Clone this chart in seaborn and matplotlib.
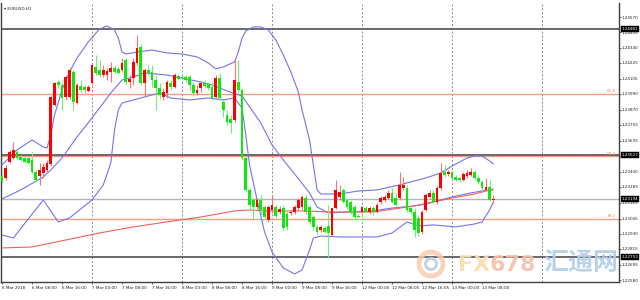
import numpy as np
import pandas as pd
import matplotlib
matplotlib.use('Agg')
import matplotlib.pyplot as plt
import matplotlib.transforms as mtransforms
from matplotlib.patches import Circle
import seaborn as sns

# ---------------- data (EURUSD H1) ----------------
opens = [1.23368, 1.23353, 1.23474, 1.23504, 1.23549, 1.23512, 1.23504, 1.23504, 1.23489, 1.23398,
         1.23368, 1.23390, 1.23413, 1.23459, 1.23905, 1.24079, 1.24057, 1.23966, 1.23966, 1.24155,
         1.23920, 1.24049, 1.24041, 1.24011, 1.24072, 1.24193, 1.24170, 1.24132, 1.24132, 1.24155,
         1.24185, 1.24178, 1.24170, 1.24246, 1.24079, 1.24110, 1.24223, 1.24344, 1.24072, 1.24170,
         1.24155, 1.24094, 1.24034, 1.23966, 1.23996, 1.24072, 1.24041, 1.24125, 1.24117, 1.24117,
         1.24117, 1.24057, 1.23996, 1.24034, 1.24072, 1.24064, 1.24041, 1.23966, 1.24110, 1.23928,
         1.23829, 1.23799, 1.23792, 1.24079, 1.24019, 1.23504, 1.23262, 1.23186, 1.23133, 1.23186,
         1.23133, 1.23035, 1.23110, 1.23133, 1.23095, 1.23125, 1.23080, 1.23088, 1.23095, 1.23125,
         1.23133, 1.23201, 1.23133, 1.23057, 1.22982, 1.22959, 1.22974, 1.22989, 1.22921, 1.23125,
         1.23209, 1.23262, 1.23186, 1.23171, 1.23133, 1.23065, 1.23095, 1.23125, 1.23095, 1.23125,
         1.23095, 1.23171, 1.23186, 1.23201, 1.23239, 1.23201, 1.23201, 1.23277, 1.23277, 1.23125,
         1.23095, 1.23050, 1.22944, 1.23110, 1.23209, 1.23239, 1.23171, 1.23277, 1.23398, 1.23383,
         1.23398, 1.23360, 1.23353, 1.23337, 1.23368, 1.23375, 1.23398, 1.23353, 1.23322, 1.23262,
         1.23284, 1.23186]
highs = [1.23383, 1.23451, 1.23565, 1.23625, 1.23565, 1.23527, 1.23512, 1.23512, 1.23549, 1.23413,
         1.23466, 1.23466, 1.23489, 1.23973, 1.24079, 1.24094, 1.24079, 1.24132, 1.24185, 1.24170,
         1.24072, 1.24094, 1.24057, 1.24057, 1.24223, 1.24284, 1.24246, 1.24208, 1.24185, 1.24231,
         1.24208, 1.24200, 1.24261, 1.24261, 1.24132, 1.24261, 1.24435, 1.24367, 1.24185, 1.24208,
         1.24208, 1.24132, 1.24072, 1.24034, 1.24094, 1.24094, 1.24147, 1.24140, 1.24132, 1.24132,
         1.24132, 1.24079, 1.24057, 1.24079, 1.24094, 1.24079, 1.24079, 1.24132, 1.24147, 1.23943,
         1.23867, 1.23829, 1.24246, 1.24246, 1.24034, 1.23519, 1.23277, 1.23201, 1.23201, 1.23224,
         1.23148, 1.23148, 1.23224, 1.23148, 1.23141, 1.23148, 1.23110, 1.23110, 1.23148, 1.23201,
         1.23224, 1.23224, 1.23148, 1.23072, 1.22997, 1.22997, 1.22989, 1.23148, 1.23125, 1.23337,
         1.23300, 1.23277, 1.23201, 1.23186, 1.23148, 1.23080, 1.23141, 1.23141, 1.23141, 1.23141,
         1.23163, 1.23216, 1.23224, 1.23262, 1.23277, 1.23239, 1.23398, 1.23360, 1.23300, 1.23148,
         1.23125, 1.23072, 1.23110, 1.23239, 1.23262, 1.23262, 1.23292, 1.23466, 1.23451, 1.23413,
         1.23413, 1.23375, 1.23368, 1.23398, 1.23413, 1.23428, 1.23413, 1.23375, 1.23337, 1.23353,
         1.23337, 1.23224]
lows = [1.23315, 1.23337, 1.23466, 1.23496, 1.23496, 1.23481, 1.23466, 1.23459, 1.23383, 1.23322,
        1.23300, 1.23353, 1.23398, 1.23443, 1.23898, 1.24034, 1.23867, 1.23943, 1.23951, 1.23867,
        1.23913, 1.24004, 1.23996, 1.24004, 1.24057, 1.24132, 1.24117, 1.24117, 1.24094, 1.24079,
        1.24140, 1.24140, 1.24155, 1.24064, 1.24034, 1.24057, 1.24208, 1.24057, 1.23973, 1.24132,
        1.24041, 1.23867, 1.23951, 1.23943, 1.23958, 1.24019, 1.24034, 1.24094, 1.24094, 1.24079,
        1.24019, 1.23973, 1.23981, 1.24004, 1.24034, 1.24019, 1.23943, 1.23958, 1.23943, 1.23814,
        1.23754, 1.23693, 1.23776, 1.24004, 1.23489, 1.23247, 1.23110, 1.23035, 1.23118, 1.23072,
        1.23050, 1.23020, 1.23088, 1.23050, 1.23080, 1.22959, 1.22959, 1.23072, 1.23080, 1.23110,
        1.23118, 1.23080, 1.23004, 1.22959, 1.22929, 1.22944, 1.22936, 1.22747, 1.22913, 1.23118,
        1.23186, 1.23163, 1.23118, 1.23080, 1.23042, 1.23050, 1.23088, 1.23088, 1.23080, 1.23072,
        1.23088, 1.23156, 1.23171, 1.23194, 1.23163, 1.23141, 1.23186, 1.23262, 1.23095, 1.23080,
        1.22906, 1.22913, 1.22929, 1.23103, 1.23201, 1.23163, 1.23156, 1.23262, 1.23360, 1.23368,
        1.23345, 1.23330, 1.23322, 1.23330, 1.23353, 1.23368, 1.23337, 1.23307, 1.23262, 1.23254,
        1.23178, 1.23163]
closes = [1.23330, 1.23428, 1.23549, 1.23565, 1.23504, 1.23489, 1.23474, 1.23466, 1.23398, 1.23337,
          1.23413, 1.23436, 1.23466, 1.23966, 1.24072, 1.24057, 1.23958, 1.24117, 1.24170, 1.23928,
          1.24057, 1.24019, 1.24019, 1.24041, 1.24208, 1.24147, 1.24132, 1.24170, 1.24163, 1.24185,
          1.24155, 1.24147, 1.24223, 1.24079, 1.24102, 1.24231, 1.24337, 1.24072, 1.24170, 1.24147,
          1.24094, 1.24034, 1.23981, 1.24004, 1.24079, 1.24041, 1.24132, 1.24102, 1.24110, 1.24094,
          1.24057, 1.23996, 1.24019, 1.24072, 1.24049, 1.24034, 1.23958, 1.24110, 1.23958, 1.23867,
          1.23776, 1.23769, 1.24094, 1.24019, 1.23504, 1.23262, 1.23148, 1.23133, 1.23186, 1.23110,
          1.23057, 1.23133, 1.23148, 1.23065, 1.23118, 1.22974, 1.22982, 1.23095, 1.23133, 1.23186,
          1.23209, 1.23095, 1.23020, 1.22982, 1.22944, 1.22982, 1.22944, 1.22936, 1.23125, 1.23262,
          1.23247, 1.23171, 1.23133, 1.23095, 1.23057, 1.23057, 1.23133, 1.23095, 1.23125, 1.23095,
          1.23148, 1.23201, 1.23209, 1.23239, 1.23171, 1.23148, 1.23300, 1.23300, 1.23110, 1.23095,
          1.22959, 1.22936, 1.23095, 1.23224, 1.23239, 1.23171, 1.23277, 1.23390, 1.23375, 1.23398,
          1.23353, 1.23337, 1.23337, 1.23383, 1.23390, 1.23398, 1.23353, 1.23322, 1.23277, 1.23284,
          1.23186, 1.23194]

# Bollinger bands and long moving average read at candle indices
bb_upper_idx = [0, 4, 8, 11, 12, 13, 14, 16, 18, 20, 23, 26, 28, 30, 31, 32, 33, 36, 40, 44, 48, 52, 55, 57,
                59, 62, 63, 64, 65, 67, 69, 71, 73, 75, 77, 79, 80, 82, 83, 84, 85, 90, 95, 100, 106, 113,
                117, 120, 124, 126, 128, 130, 131]
bb_upper_val = [1.23451, 1.23565, 1.23640, 1.23587, 1.23580, 1.23678, 1.23829, 1.24019, 1.24155, 1.24261,
                1.24382, 1.24480, 1.24503, 1.24473, 1.24412, 1.24306, 1.24291, 1.24306, 1.24321, 1.24299,
                1.24291, 1.24269, 1.24223, 1.24178, 1.24193, 1.24231, 1.24306, 1.24412, 1.24465, 1.24496,
                1.24496, 1.24473, 1.24397, 1.24284, 1.24155, 1.24004, 1.23867, 1.23640, 1.23451, 1.23262,
                1.23231, 1.23231, 1.23254, 1.23262, 1.23300, 1.23353, 1.23390, 1.23443, 1.23504, 1.23519,
                1.23519, 1.23481, 1.23459]
bb_mid_idx = [0, 5, 11, 13, 16, 20, 24, 29, 32, 35, 38, 44, 53, 56, 60, 64, 69, 72, 75, 78, 82, 84, 87, 93,
              99, 104, 110, 113, 116, 120, 125, 128, 131]
bb_mid_val = [1.23194, 1.23262, 1.23360, 1.23413, 1.23504, 1.23663, 1.23807, 1.23996, 1.24094, 1.24117,
              1.24147, 1.24132, 1.24079, 1.24057, 1.24011, 1.23973, 1.23769, 1.23602, 1.23489, 1.23383,
              1.23239, 1.23133, 1.23088, 1.23095, 1.23103, 1.23125, 1.23141, 1.23156, 1.23178, 1.23209,
              1.23239, 1.23254, 1.23262]
bb_lower_idx = [0, 3, 11, 15, 18, 24, 27, 29, 30, 31, 32, 38, 42, 45, 50, 55, 59, 62, 64, 65, 66, 68, 70,
                72, 75, 78, 80, 82, 83, 85, 90, 100, 104, 108, 111, 115, 121, 126, 128, 130, 131]
bb_lower_val = [1.22921, 1.22898, 1.23186, 1.23020, 1.23050, 1.23186, 1.23300, 1.23466, 1.23716, 1.23867,
                1.23920, 1.23966, 1.23996, 1.23958, 1.23943, 1.23958, 1.23943, 1.23958, 1.23882, 1.23678,
                1.23451, 1.23186, 1.22944, 1.22792, 1.22671, 1.22626, 1.22656, 1.22808, 1.22898, 1.22913,
                1.22906, 1.22906, 1.22936, 1.23020, 1.22989, 1.22997, 1.22982, 1.23004, 1.23020, 1.23110,
                1.23171]
ma_idx = [0, 8, 17, 26, 35, 44, 53, 62, 66, 71, 80, 88, 99, 110, 120, 126, 131]
ma_val = [1.22823, 1.22830, 1.22883, 1.22936, 1.22982, 1.23020, 1.23057, 1.23103, 1.23110, 1.23103,
          1.23103, 1.23095, 1.23095, 1.23141, 1.23201, 1.23231, 1.23269]

time_label_idx = [0, 8, 16, 24, 32, 40, 48, 56, 64, 72, 80, 88, 96, 104, 112, 120, 128]
time_labels = ['6 Mar 2018', '6 Mar 08:00', '6 Mar 16:00', '7 Mar 00:00', '7 Mar 08:00', '7 Mar 16:00',
               '8 Mar 00:00', '8 Mar 08:00', '8 Mar 16:00', '9 Mar 00:00', '9 Mar 08:00', '9 Mar 16:00',
               '12 Mar 00:05', '12 Mar 08:05', '12 Mar 16:05', '13 Mar 00:00', '13 Mar 08:00']
day_sep_idx = [24, 48, 72, 96, 120, 144]

price_ticks = [1.24570, 1.24455, 1.24340, 1.24225, 1.24105, 1.23990, 1.23870, 1.23755, 1.23635, 1.23520,
               1.23400, 1.23285, 1.23165, 1.23045, 1.22930, 1.22815, 1.22695, 1.22580]
dark_levels = [1.24481, 1.23527, 1.22753]
bid_level = 1.23194
fib_levels = [1.23990, 1.23518, 1.23045]
fib_labels = ['61.8', '50.0', '38.2']
symbol_label = 'EURUSD,H1'

# ---------------- plotting ----------------
sns.set_theme(style='white')
plt.rcParams['font.family'] = ['DejaVu Sans', 'Noto Sans CJK SC']

FS = 3.0
fig = plt.figure(figsize=(6.4, 3.0), dpi=100)
ax = fig.add_axes([1 / 640, 18 / 300, 618 / 640, 279 / 300])
ax.set_facecolor('white')

o = np.array(opens); h = np.array(highs); l = np.array(lows); c = np.array(closes)
idx = np.arange(len(o))
bull = c >= o
body_col = np.where(bull, '#FF0000', '#10E810')
wick_col = np.where(bull, '#FF7070', '#70F070')

for d in day_sep_idx:
    ax.axvline(d, color='#8a8a8a', lw=0.7, ls=(0, (2, 2)), zorder=1)

for lv in fib_levels:
    ax.axhline(lv, color='#F4A07C', lw=1.0, zorder=2)
for lv in dark_levels:
    ax.axhline(lv, color='#505050', lw=1.2, zorder=2)
ax.axhline(bid_level, color='#b4b4b4', lw=1.0, zorder=2)

band_col = '#7474EE'
sns.lineplot(x=bb_upper_idx, y=bb_upper_val, ax=ax, color=band_col, lw=0.8, estimator=None, sort=False, zorder=3)
sns.lineplot(x=bb_mid_idx, y=bb_mid_val, ax=ax, color=band_col, lw=0.8, estimator=None, sort=False, zorder=3)
sns.lineplot(x=bb_lower_idx, y=bb_lower_val, ax=ax, color=band_col, lw=0.8, estimator=None, sort=False, zorder=3)
sns.lineplot(x=ma_idx, y=ma_val, ax=ax, color='#F06060', lw=0.8, estimator=None, sort=False, zorder=3)

ax.vlines(idx, l, h, colors=wick_col, lw=0.8, zorder=4)
body = np.where(np.abs(c - o) < 0.00002, np.where(bull, 0.00002, -0.00002), c - o)
ax.bar(idx, body, bottom=o, width=0.72, color=body_col, linewidth=0, zorder=5)

ax.set_xlim(-0.27, 164.5)
ax.set_ylim(1.22565, 1.24677)

ax.spines['top'].set_visible(False)
for side in ['left', 'bottom', 'right']:
    ax.spines[side].set_color('#404040')
    ax.spines[side].set_linewidth(1.0)

ax.yaxis.tick_right()
ax.set_yticks(price_ticks)
ax.set_yticklabels([f'{v:.5f}' for v in price_ticks])
ax.tick_params(axis='y', labelsize=FS, length=1.5, width=0.5, pad=0.6, colors='#222222', right=True)
ax.set_xticks(time_label_idx)
ax.set_xticklabels(time_labels, ha='left')
ax.tick_params(axis='x', labelsize=FS, length=1.5, width=0.5, pad=1.2, colors='#222222', bottom=True)
ax.grid(False)
ax.set_xlabel('')
ax.set_ylabel('')

trans = mtransforms.blended_transform_factory(ax.transAxes, ax.transData)
for lv in dark_levels + [bid_level]:
    ax.text(1.0 + 2.5 / 618, lv, f'{lv:.5f}', transform=trans, ha='left', va='center', fontsize=FS,
            color='white', zorder=20, clip_on=False,
            bbox=dict(boxstyle='square,pad=0.2', fc='black', ec='black', lw=0.3))

for lv, lab in zip(fib_levels, fib_labels):
    ax.text(163.6, lv + 0.00003, lab, ha='right', va='bottom', fontsize=FS, color='#F08860', zorder=6)

fig.text(4 / 640, 1 - 9 / 300, '\u25be ' + symbol_label, fontsize=FS, va='center', ha='left', color='#222222')

# watermark
fig.add_artist(Circle((431, 36), 12, transform=mtransforms.IdentityTransform(), fill=False,
                      ec='#F9CDB0', lw=3.5, alpha=0.85, zorder=30))
fig.add_artist(Circle((431, 36), 5.5, transform=mtransforms.IdentityTransform(), fill=False,
                      ec='#B8CDE6', lw=2.2, alpha=0.85, zorder=30))
fig.text(458 / 640, 1 - 265 / 300, 'FX', fontsize=16, fontweight='bold', color='#FADFAE', alpha=0.9,
         va='center', ha='left', zorder=30)
fig.text(490 / 640, 1 - 265 / 300, '678', fontsize=16, fontweight='bold', color='#F8BFA8', alpha=0.9,
         va='center', ha='left', zorder=30)
fig.text(543 / 640, 1 - 263 / 300, '汇通网', fontsize=18, fontweight='bold', color='#B2CEE8', alpha=0.9,
         family=['Noto Sans CJK SC', 'DejaVu Sans'], va='center', ha='left', zorder=30)

fig.savefig('out.png', dpi=100, facecolor='white')
